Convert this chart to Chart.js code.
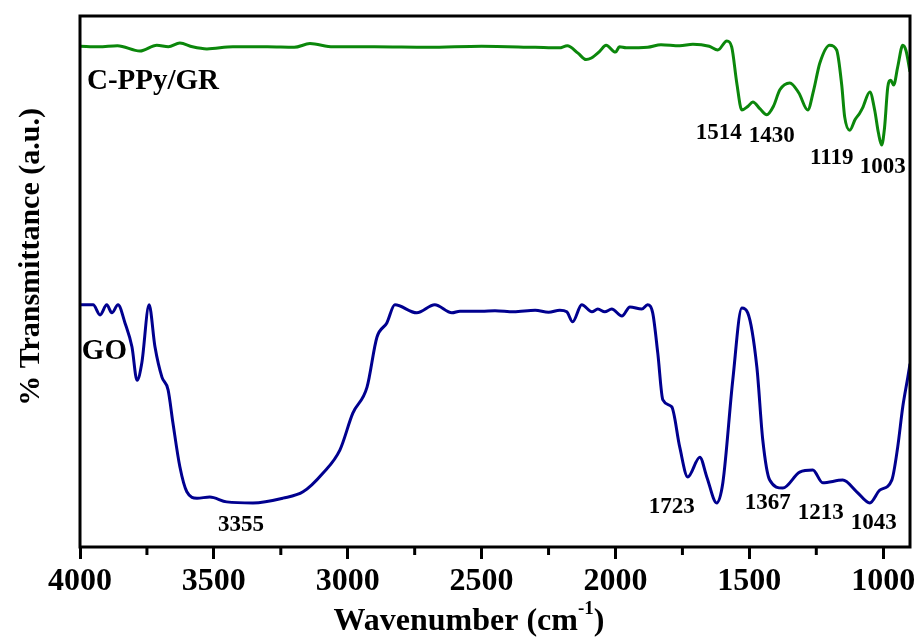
<!DOCTYPE html>
<html>
<head>
<meta charset="utf-8">
<script src="https://cdn.jsdelivr.net/npm/chart.js@4.4.1/dist/chart.umd.min.js"></script>
<style>
  html, body { margin: 0; padding: 0; background: #fff; }
  #wrap { width: 918px; height: 639px; }
</style>
</head>
<body>
<div id="wrap"><canvas id="ftir"></canvas></div>
<script>
// Espectros FTIR (transmitancia en unidades arbitrarias, 0 = abajo, 100 = arriba)
const ppyWn = [4000, 3930, 3860, 3776, 3713, 3670, 3627, 3580, 3526, 3429, 3300, 3200, 3141, 3055, 2900, 2700, 2500, 2300,
  2210, 2180, 2140, 2110, 2090, 2060, 2035, 2000, 1985, 1960, 1880, 1830, 1760, 1711, 1650, 1618, 1584, 1566, 1547,
  1528, 1505, 1487, 1460, 1435, 1410, 1386, 1349, 1315, 1282, 1260, 1237, 1200, 1174, 1155, 1144, 1125, 1105, 1088,
  1077, 1050, 1032, 1018, 1006, 995, 983, 972, 961, 946, 927, 915, 900];
const ppyT = [94.3, 94.2, 94.4, 93.4, 94.5, 94.2, 94.9, 94.2, 93.8, 94.2, 94.2, 94.1, 94.8, 94.2, 94.2, 94.1, 94.3, 94.1,
  94.0, 94.4, 93.0, 91.8, 92.1, 93.3, 94.5, 93.2, 94.2, 94.0, 94.1, 94.6, 94.4, 94.7, 94.3, 93.6, 95.3, 94.2, 87.4,
  82.3, 83.0, 83.8, 82.5, 81.4, 83.0, 86.1, 87.4, 85.5, 82.3, 86.0, 91.1, 94.5, 93.6, 87.0, 81.0, 78.5, 80.5, 81.7,
  82.7, 85.7, 82.3, 78.0, 75.7, 79.0, 86.6, 87.9, 87.0, 90.4, 94.5, 93.5, 89.5];

const goWn = [4000, 3951, 3925, 3900, 3881, 3858, 3832, 3806, 3787, 3769, 3742, 3720, 3694, 3671, 3653, 3627, 3601, 3563,
  3515, 3452, 3354, 3242, 3167, 3093, 3029, 2981, 2928, 2891, 2854, 2824, 2742, 2675, 2611, 2581, 2500, 2450, 2380,
  2300, 2250, 2208, 2182, 2160, 2126, 2088, 2066, 2040, 2014, 1976, 1946, 1902, 1880, 1861, 1842, 1823, 1790, 1760,
  1730, 1685, 1659, 1622, 1599, 1562, 1528, 1506, 1472, 1450, 1424, 1375, 1312, 1263, 1226, 1151, 1099, 1050, 1013,
  968, 946, 927, 908, 900];
const goT = [45.6, 45.6, 43.7, 45.6, 44.1, 45.6, 42.2, 37.7, 31.4, 34.7, 45.6, 37.7, 32.0, 29.6, 23.4, 15.1, 10.4, 9.2,
  9.4, 8.5, 8.3, 9.2, 10.4, 13.9, 18.3, 25.2, 30.1, 39.5, 42.2, 45.6, 44.1, 45.6, 44.1, 44.4, 44.4, 44.5, 44.3,
  44.6, 44.2, 44.6, 44.3, 42.4, 45.6, 44.3, 44.8, 44.3, 44.8, 43.5, 45.2, 44.8, 45.6, 44.1, 36.5, 27.7, 26.4, 18.8,
  13.2, 16.9, 13.2, 8.3, 12.1, 31.4, 45.0, 44.1, 33.9, 20.2, 12.6, 11.1, 14.1, 14.5, 12.1, 12.6, 10.4, 8.3, 10.7,
  12.6, 18.8, 26.4, 32.0, 34.5];

const xTicks = [4000, 3500, 3000, 2500, 2000, 1500, 1000];
const xMinorTicks = [3750, 3250, 2750, 2250, 1750, 1250];

// etiquetas de picos: [texto, número de onda, transmitancia]
const peakLabels = [
  ['1514', 1614, 78.0], ['1430', 1416, 77.4], ['1119', 1192, 73.3], ['1003', 1002, 71.6],
  ['3355', 3399, 4.1], ['1723', 1790, 7.5], ['1367', 1431, 8.3], ['1213', 1233, 6.4], ['1043', 1035, 4.5]
];
const seriesLabels = [['C-PPy/GR', 3974, 87.6], ['GO', 3993, 36.9]];

function toPoints(xs, ys) {
  return xs.map((x, i) => ({ x: x, y: ys[i] }));
}

const serif = "'Liberation Serif', 'Times New Roman', serif";

const extras = {
  id: 'extras',
  afterDraw(chart) {
    const { ctx, chartArea: a, scales: { x, y } } = chart;
    ctx.save();
    // marco
    ctx.strokeStyle = '#000';
    ctx.lineWidth = 3;
    ctx.strokeRect(a.left, a.top, a.right - a.left, a.bottom - a.top);
    // marcas menores
    xMinorTicks.forEach(v => {
      const px = x.getPixelForValue(v);
      ctx.beginPath();
      ctx.moveTo(px, a.bottom);
      ctx.lineTo(px, a.bottom + 8);
      ctx.stroke();
    });
    ctx.fillStyle = '#000';
    ctx.textBaseline = 'middle';
    ctx.textAlign = 'center';
    ctx.font = 'bold 23px ' + serif;
    peakLabels.forEach(p => ctx.fillText(p[0], x.getPixelForValue(p[1]), y.getPixelForValue(p[2])));
    ctx.textAlign = 'left';
    ctx.font = 'bold 29px ' + serif;
    seriesLabels.forEach(p => ctx.fillText(p[0], x.getPixelForValue(p[1]), y.getPixelForValue(p[2])));
    // titulo eje y
    ctx.save();
    ctx.translate(31, 257);
    ctx.rotate(-Math.PI / 2);
    ctx.textAlign = 'center';
    ctx.font = 'bold 30px ' + serif;
    ctx.fillText('% Transmittance (a.u.)', 0, 0);
    ctx.restore();
    // titulo eje x con superindice
    ctx.textBaseline = 'alphabetic';
    ctx.font = 'bold 32px ' + serif;
    const t1 = 'Wavenumber (cm';
    const w1 = ctx.measureText(t1).width;
    ctx.font = 'bold 19px ' + serif;
    const w2 = ctx.measureText('-1').width;
    ctx.font = 'bold 32px ' + serif;
    const w3 = ctx.measureText(')').width;
    let sx = 469 - (w1 + w2 + w3) / 2;
    ctx.fillText(t1, sx, 630);
    ctx.font = 'bold 19px ' + serif;
    ctx.fillText('-1', sx + w1, 614);
    ctx.font = 'bold 32px ' + serif;
    ctx.fillText(')', sx + w1 + w2, 630);
    ctx.restore();
  }
};

new Chart(document.getElementById('ftir'), {
  type: 'line',
  data: {
    datasets: [{
      label: 'C-PPy/GR',
      data: toPoints(ppyWn, ppyT),
      borderColor: '#0b870b',
      borderWidth: 3,
      pointRadius: 0,
      tension: 0.4,
      cubicInterpolationMode: 'monotone'
    }, {
      label: 'GO',
      data: toPoints(goWn, goT),
      borderColor: '#00008f',
      borderWidth: 3,
      pointRadius: 0,
      tension: 0.4,
      cubicInterpolationMode: 'monotone'
    }]
  },
  options: {
    responsive: true,
    maintainAspectRatio: false,
    animation: false,
    layout: { padding: { left: 80, top: 16, right: 8, bottom: 0 } },
    plugins: {
      legend: { display: false },
      tooltip: { enabled: false }
    },
    scales: {
      x: {
        type: 'linear',
        reverse: true,
        min: 900,
        max: 4000,
        afterBuildTicks: axis => { axis.ticks = xTicks.map(v => ({ value: v })); },
        afterFit: axis => {
          axis.height = 92;
          axis.paddingLeft = 0;
          axis.paddingRight = 0;
        },
        border: { display: false },
        grid: {
          drawOnChartArea: false,
          drawTicks: true,
          tickLength: 12,
          tickWidth: 3,
          tickColor: '#000'
        },
        ticks: {
          color: '#000',
          padding: 4,
          maxRotation: 0,
          callback: v => String(v),
          font: { size: 32, weight: 'bold', family: serif }
        }
      },
      y: {
        display: false,
        min: 0,
        max: 100
      }
    }
  },
  plugins: [extras]
});
</script>
</body>
</html>
